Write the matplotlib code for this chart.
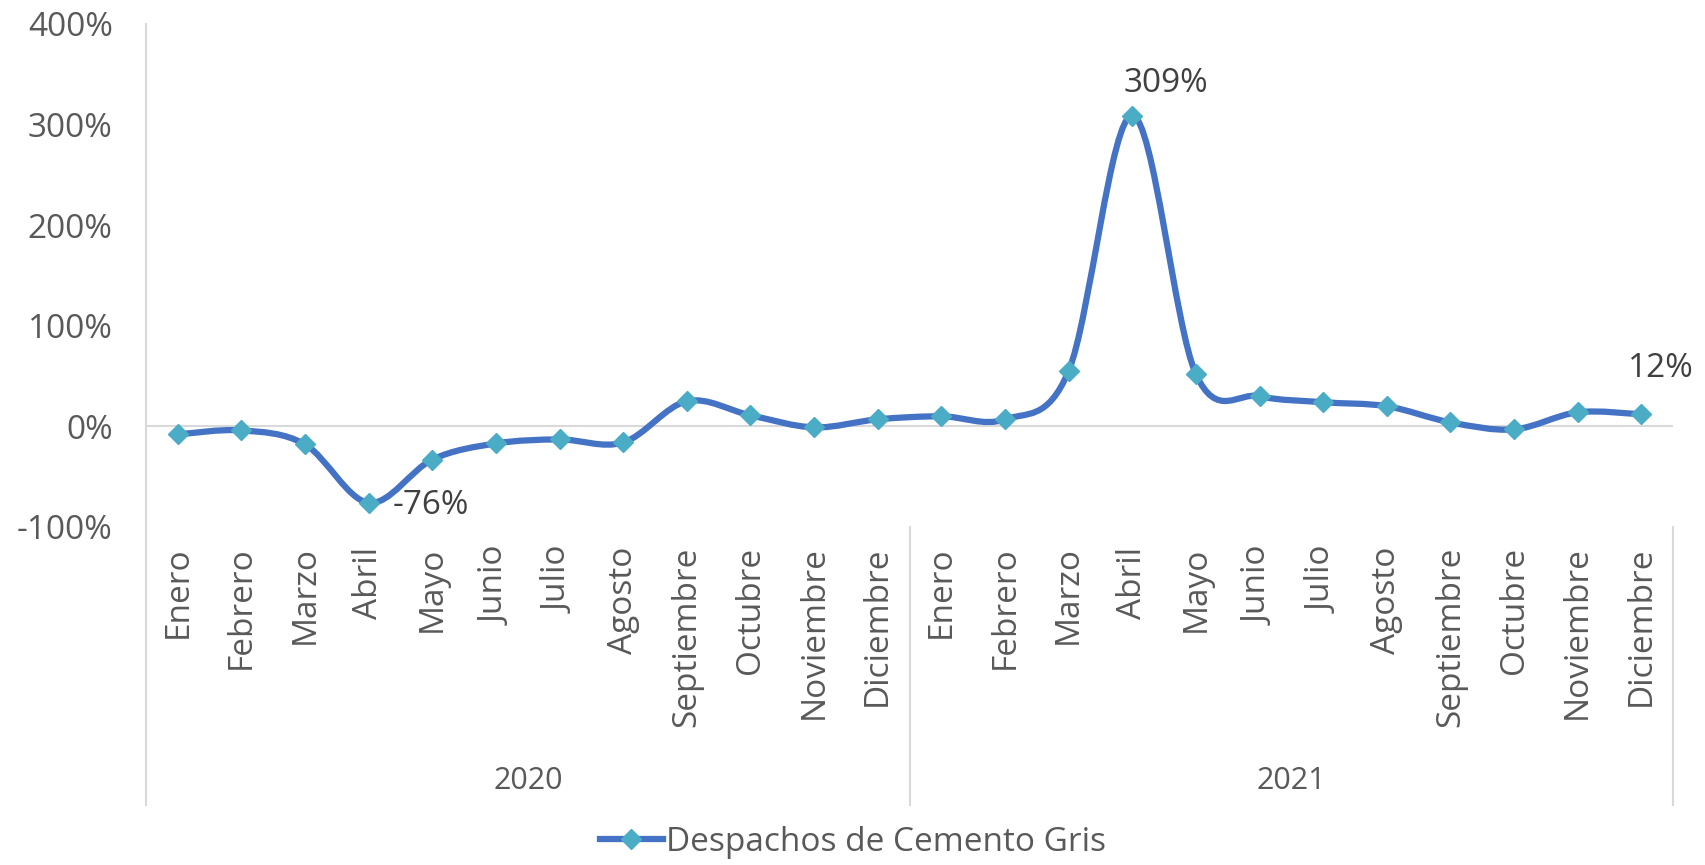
import matplotlib.pyplot as plt
import matplotlib.transforms as mtransforms
from matplotlib.path import Path
from matplotlib.patches import PathPatch
from matplotlib.lines import Line2D
import numpy as np

plt.rcParams['font.family'] = ['Open Sans', 'DejaVu Sans']

meses = ['Enero', 'Febrero', 'Marzo', 'Abril', 'Mayo', 'Junio', 'Julio',
         'Agosto', 'Septiembre', 'Octubre', 'Noviembre', 'Diciembre']
anios = ['2020', '2021']
categorias = meses + meses

# variacion anual de despachos (%)
valores_2020 = [-8, -4, -18, -76, -33, -17, -13, -16, 25, 11, -1, 7]
valores_2021 = [10, 7, 55, 309, 52, 30, 24, 20, 4, -3, 14, 12]
valores = np.array(valores_2020 + valores_2021) / 100.0

etiquetas_idx = [3, 15, 23]  # Abril 2020, Abril 2021, Diciembre 2021

color_linea = '#4472C4'
color_marca = '#4BACC6'
gris = '#595959'

fig = plt.figure(figsize=(17.06, 8.65), dpi=100)
ax = fig.add_axes([0.0856, 0.3908, 0.8951, 0.5815])

x = np.arange(len(valores))

# curva suavizada tipo Excel (Bezier cubica)
pts = np.column_stack([x, valores])
verts = [pts[0]]
codes = [Path.MOVETO]
n = len(pts)
for i in range(n - 1):
    p0 = pts[max(i - 1, 0)]
    p1 = pts[i]
    p2 = pts[i + 1]
    p3 = pts[min(i + 2, n - 1)]
    c1 = p1 + (p2 - p0) / 6.0
    c2 = p2 - (p3 - p1) / 6.0
    verts += [c1, c2, p2]
    codes += [Path.CURVE4] * 3
curva = PathPatch(Path(verts, codes), facecolor='none', edgecolor=color_linea,
                  lw=4.5, capstyle='round', zorder=3)
ax.add_patch(curva)
ax.plot(x, valores, linestyle='none', marker='D', markersize=10,
        color=color_marca, zorder=4)

ax.set_xlim(-0.5, 23.5)
ax.set_ylim(-1, 4)
ax.set_yticks([-1, 0, 1, 2, 3, 4])
ax.set_yticklabels(['-100%', '0%', '100%', '200%', '300%', '400%'],
                   fontsize=24, color=gris)
ax.tick_params(axis='y', length=0, pad=24)

ax.set_xticks(x)
ax.set_xticklabels(categorias, rotation=90, fontsize=24, color=gris)
ax.tick_params(axis='x', length=0, pad=14)

for s in ax.spines.values():
    s.set_visible(False)

ax.axhline(0, color='#D9D9D9', lw=1.5, zorder=1)

trans = mtransforms.blended_transform_factory(ax.transData, ax.transAxes)
ax.plot([-0.5, -0.5], [1.0, -0.553], transform=trans, color='#D9D9D9',
        lw=1.5, clip_on=False)
for xs in [11.5, 23.5]:
    ax.plot([xs, xs], [0.0, -0.553], transform=trans, color='#D9D9D9',
            lw=1.5, clip_on=False)

for k, anio in enumerate(anios):
    ax.text(5.5 + 12 * k, -0.505, anio, transform=trans, ha='center',
            va='center', fontsize=22, color=gris)

# etiquetas de datos
desplaz = {3: (45, -2), 15: (24, 23), 23: (14, 33)}
for i in etiquetas_idx:
    dx, dy = desplaz[i]
    texto = '{:d}%'.format(int(round(valores[i] * 100)))
    ax.annotate(texto, (x[i], valores[i]), xytext=(dx, dy),
                textcoords='offset points', ha='center', va='center',
                fontsize=24, color='#404040', annotation_clip=False)

handle = Line2D([], [], color=color_linea, lw=4.5, marker='D', markersize=10,
                markerfacecolor=color_marca, markeredgecolor=color_marca)
fig.legend([handle], ['Despachos de Cemento Gris'], loc='center',
           bbox_to_anchor=(0.500, 0.026), frameon=False, fontsize=24,
           labelcolor=gris, handlelength=1.9, handletextpad=0.1)

fig.savefig('out.png', dpi=100)
